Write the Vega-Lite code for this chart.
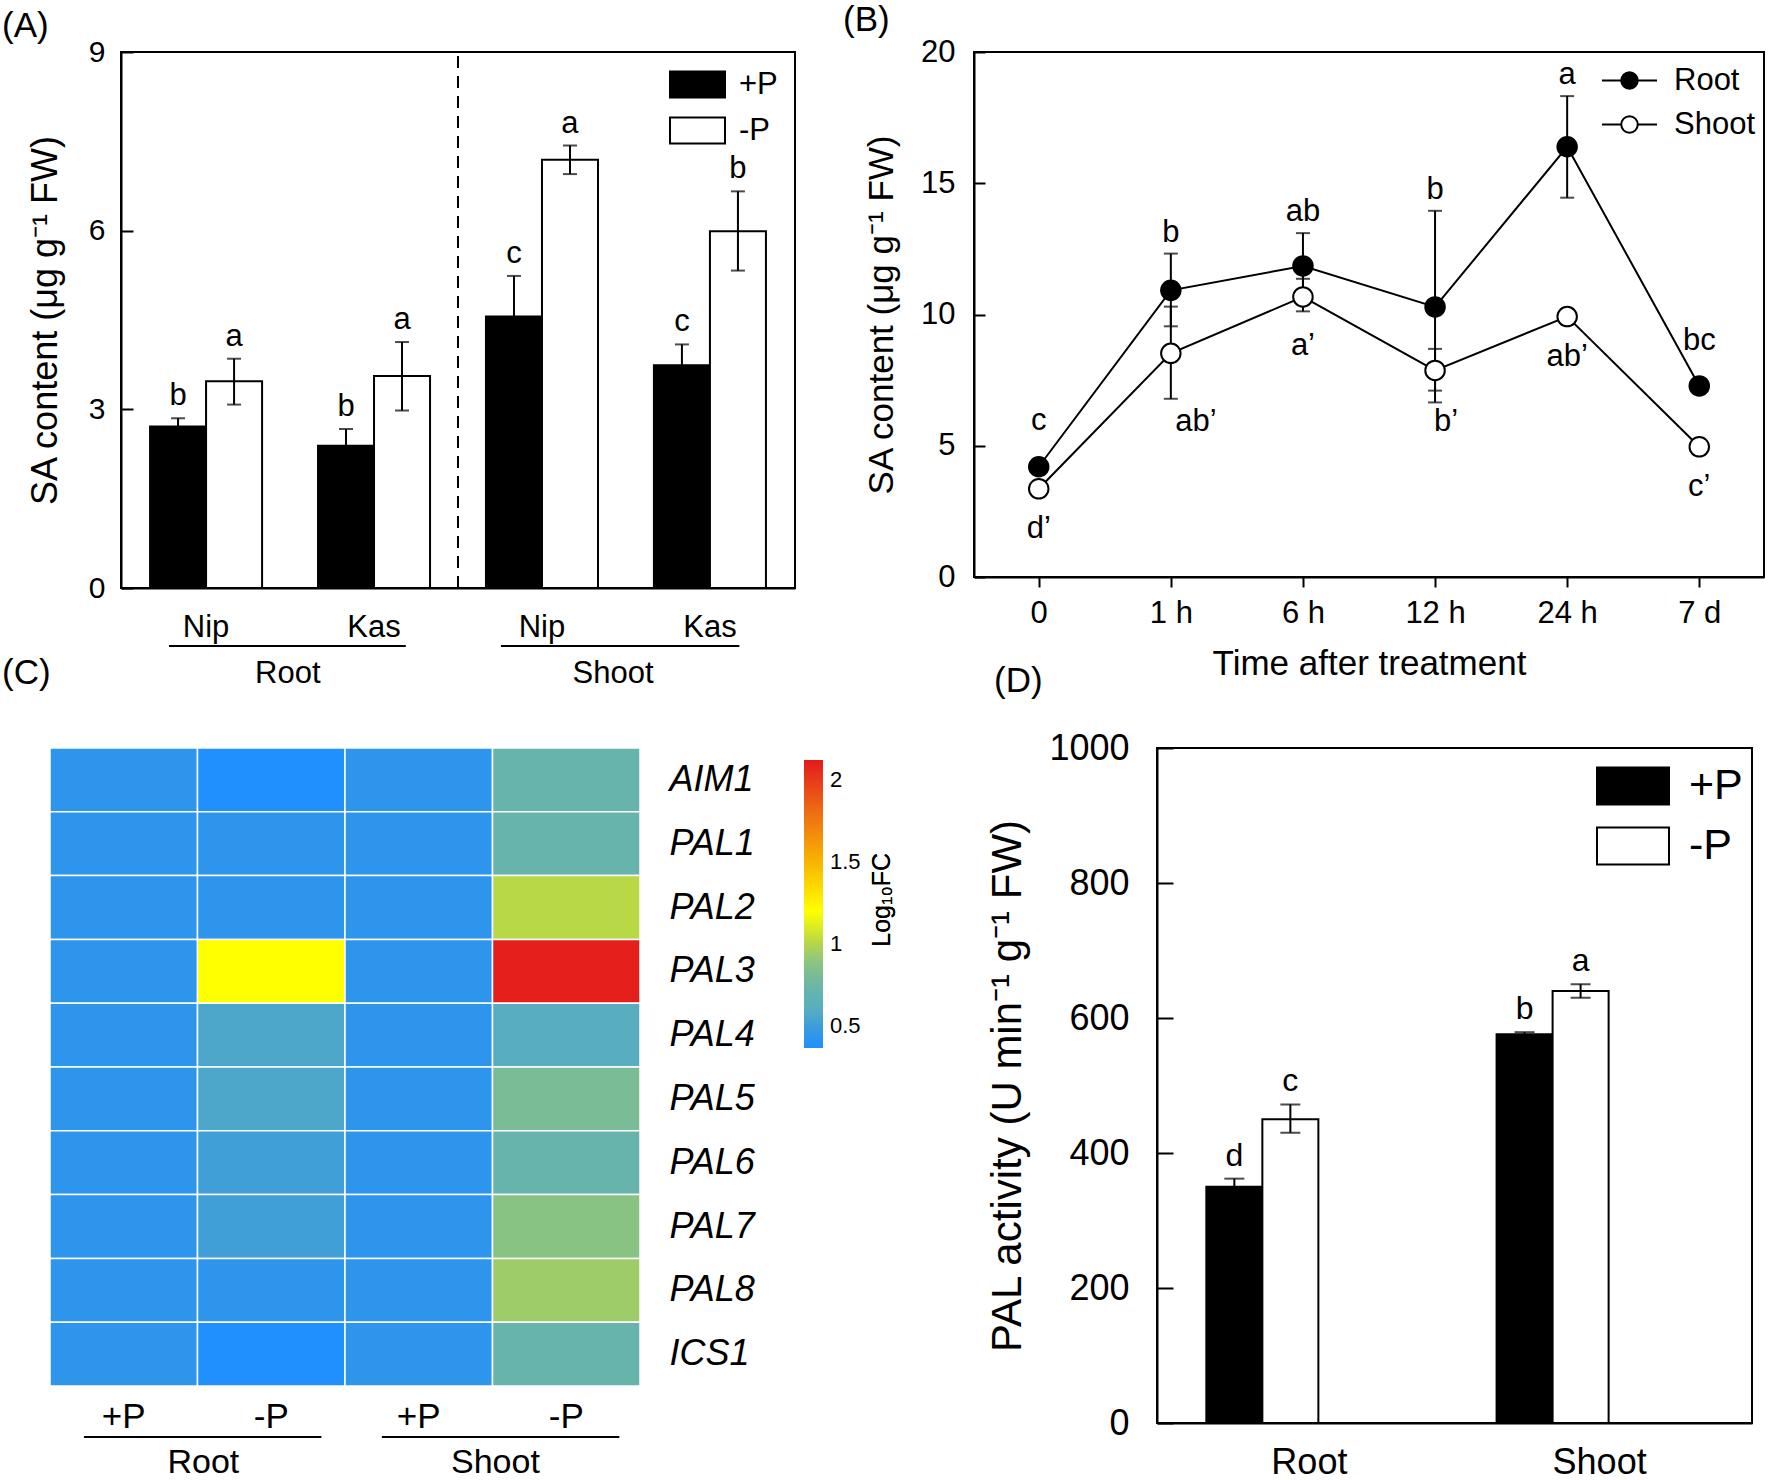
{
  "$schema": "https://vega.github.io/schema/vega-lite/v6.json",
  "background": "white",
  "padding": {"left": 1, "top": 2, "right": 0, "bottom": 0},
  "config": {
    "font": "Liberation Sans",
    "view": {"stroke": "black", "strokeWidth": 2},
    "axis": {"grid": false, "domainColor": "black", "domainWidth": 2, "tickColor": "black", "tickWidth": 2, "labelColor": "black", "titleColor": "black", "titleFontWeight": "normal", "labelFont": "Liberation Sans", "titleFont": "Liberation Sans"},
    "legend": {"labelFont": "Liberation Sans", "labelColor": "black", "padding": 0},
    "title": {"font": "Liberation Sans", "fontWeight": "normal", "fontSize": 35, "anchor": "start", "frame": "group", "color": "black"},
    "text": {"font": "Liberation Sans", "color": "black"}
  },
  "datasets": {
    "a": [
      {"grp": "Root Nip", "P": "+P", "v": 2.71, "lo": 2.57, "hi": 2.85, "sig": "b"},
      {"grp": "Root Nip", "P": "-P", "v": 3.47, "lo": 3.08, "hi": 3.85, "sig": "a"},
      {"grp": "Root Kas", "P": "+P", "v": 2.39, "lo": 2.11, "hi": 2.67, "sig": "b"},
      {"grp": "Root Kas", "P": "-P", "v": 3.56, "lo": 2.98, "hi": 4.13, "sig": "a"},
      {"grp": "Shoot Nip", "P": "+P", "v": 4.56, "lo": 3.88, "hi": 5.24, "sig": "c"},
      {"grp": "Shoot Nip", "P": "-P", "v": 7.19, "lo": 6.95, "hi": 7.43, "sig": "a"},
      {"grp": "Shoot Kas", "P": "+P", "v": 3.74, "lo": 3.39, "hi": 4.09, "sig": "c"},
      {"grp": "Shoot Kas", "P": "-P", "v": 5.99, "lo": 5.33, "hi": 6.66, "sig": "b"}
    ],
    "aAnn": [
      {"t": "Root", "x1": 0.285, "x2": 1.69, "xm": 0.99},
      {"t": "Shoot", "x1": 2.255, "x2": 3.67, "xm": 2.92}
    ],
    "b": [
      {"tissue": "Root", "time": "0", "v": 4.2, "lo": 3.95, "hi": 4.45, "sig": "c"},
      {"tissue": "Root", "time": "1 h", "v": 10.92, "lo": 9.55, "hi": 12.32, "sig": "b"},
      {"tissue": "Root", "time": "6 h", "v": 11.85, "lo": 10.6, "hi": 13.1, "sig": "ab"},
      {"tissue": "Root", "time": "12 h", "v": 10.29, "lo": 6.65, "hi": 13.95, "sig": "b"},
      {"tissue": "Root", "time": "24 h", "v": 16.39, "lo": 14.45, "hi": 18.32, "sig": "a"},
      {"tissue": "Root", "time": "7 d", "v": 7.28, "lo": 7.05, "hi": 7.5, "sig": "bc"},
      {"tissue": "Shoot", "time": "0", "v": 3.36, "lo": 3.15, "hi": 3.57, "sig": "d’"},
      {"tissue": "Shoot", "time": "1 h", "v": 8.52, "lo": 6.79, "hi": 10.3, "sig": "ab’"},
      {"tissue": "Shoot", "time": "6 h", "v": 10.67, "lo": 10.12, "hi": 11.36, "sig": "a’"},
      {"tissue": "Shoot", "time": "12 h", "v": 7.87, "lo": 7.1, "hi": 8.69, "sig": "b’"},
      {"tissue": "Shoot", "time": "24 h", "v": 9.92, "lo": 9.72, "hi": 10.12, "sig": "ab’"},
      {"tissue": "Shoot", "time": "7 d", "v": 4.96, "lo": 4.76, "hi": 5.16, "sig": "c’"}
    ],
    "c": [
      {"cond": "Root +P", "gene": "AIM1", "lfc": 0.43}, {"cond": "Root -P", "gene": "AIM1", "lfc": 0.37}, {"cond": "Shoot +P", "gene": "AIM1", "lfc": 0.43}, {"cond": "Shoot -P", "gene": "AIM1", "lfc": 0.72},
      {"cond": "Root +P", "gene": "PAL1", "lfc": 0.43}, {"cond": "Root -P", "gene": "PAL1", "lfc": 0.43}, {"cond": "Shoot +P", "gene": "PAL1", "lfc": 0.43}, {"cond": "Shoot -P", "gene": "PAL1", "lfc": 0.72},
      {"cond": "Root +P", "gene": "PAL2", "lfc": 0.43}, {"cond": "Root -P", "gene": "PAL2", "lfc": 0.43}, {"cond": "Shoot +P", "gene": "PAL2", "lfc": 0.43}, {"cond": "Shoot -P", "gene": "PAL2", "lfc": 1.01},
      {"cond": "Root +P", "gene": "PAL3", "lfc": 0.43}, {"cond": "Root -P", "gene": "PAL3", "lfc": 1.2}, {"cond": "Shoot +P", "gene": "PAL3", "lfc": 0.43}, {"cond": "Shoot -P", "gene": "PAL3", "lfc": 2.1},
      {"cond": "Root +P", "gene": "PAL4", "lfc": 0.43}, {"cond": "Root -P", "gene": "PAL4", "lfc": 0.56}, {"cond": "Shoot +P", "gene": "PAL4", "lfc": 0.43}, {"cond": "Shoot -P", "gene": "PAL4", "lfc": 0.6},
      {"cond": "Root +P", "gene": "PAL5", "lfc": 0.43}, {"cond": "Root -P", "gene": "PAL5", "lfc": 0.56}, {"cond": "Shoot +P", "gene": "PAL5", "lfc": 0.43}, {"cond": "Shoot -P", "gene": "PAL5", "lfc": 0.81},
      {"cond": "Root +P", "gene": "PAL6", "lfc": 0.43}, {"cond": "Root -P", "gene": "PAL6", "lfc": 0.51}, {"cond": "Shoot +P", "gene": "PAL6", "lfc": 0.43}, {"cond": "Shoot -P", "gene": "PAL6", "lfc": 0.72},
      {"cond": "Root +P", "gene": "PAL7", "lfc": 0.43}, {"cond": "Root -P", "gene": "PAL7", "lfc": 0.51}, {"cond": "Shoot +P", "gene": "PAL7", "lfc": 0.43}, {"cond": "Shoot -P", "gene": "PAL7", "lfc": 0.87},
      {"cond": "Root +P", "gene": "PAL8", "lfc": 0.43}, {"cond": "Root -P", "gene": "PAL8", "lfc": 0.43}, {"cond": "Shoot +P", "gene": "PAL8", "lfc": 0.43}, {"cond": "Shoot -P", "gene": "PAL8", "lfc": 0.94},
      {"cond": "Root +P", "gene": "ICS1", "lfc": 0.43}, {"cond": "Root -P", "gene": "ICS1", "lfc": 0.37}, {"cond": "Shoot +P", "gene": "ICS1", "lfc": 0.43}, {"cond": "Shoot -P", "gene": "ICS1", "lfc": 0.72}
    ],
    "cAnn": [
      {"t": "Root", "x1": 0.23, "x2": 1.84, "xm": 1.04},
      {"t": "Shoot", "x1": 2.25, "x2": 3.86, "xm": 3.02}
    ],
    "d": [
      {"tissue": "Root", "P": "+P", "v": 350, "lo": 338, "hi": 362, "sig": "d"},
      {"tissue": "Root", "P": "-P", "v": 450, "lo": 430, "hi": 472, "sig": "c"},
      {"tissue": "Shoot", "P": "+P", "v": 576, "lo": 573, "hi": 579, "sig": "b"},
      {"tissue": "Shoot", "P": "-P", "v": 640, "lo": 630, "hi": 650, "sig": "a"}
    ]
  },
  "align": "none",
  "spacing": -34,
  "resolve": {"scale": {"fill": "independent", "x": "independent", "y": "independent"}, "legend": {"fill": "independent"}},
  "vconcat": [
    {
      "align": "none",
      "spacing": 46,
      "resolve": {"scale": {"fill": "independent", "x": "independent", "y": "independent"}, "legend": {"fill": "independent"}},
      "hconcat": [
        {
          "width": 674,
          "height": 536,
          "title": {"text": "(A)", "dx": -119, "offset": -7},
          "layer": [
            {
              "data": {"name": "a"},
              "encoding": {
                "x": {"field": "grp", "type": "nominal", "sort": ["Root Nip", "Root Kas", "Shoot Nip", "Shoot Kas"], "scale": {"paddingInner": 0.333, "paddingOuter": 0.173}, "axis": {"title": null, "labelExpr": "split(datum.value, ' ')[1]", "labelAngle": 0, "ticks": false, "labelFontSize": 31, "labelPadding": 24}},
                "xOffset": {"field": "P", "type": "nominal", "sort": ["+P", "-P"], "scale": {"paddingInner": 0, "paddingOuter": 0}}
              },
              "layer": [
                {
                  "mark": {"type": "bar", "stroke": "black", "strokeWidth": 2},
                  "encoding": {
                    "y": {"field": "v", "type": "quantitative", "scale": {"domain": [0, 9], "nice": false}, "axis": {"title": "SA content (μg g⁻¹ FW)", "values": [0, 3, 6, 9], "format": "d", "tickSize": -12, "labelPadding": 28, "labelFontSize": 30, "titleFontSize": 36, "titlePadding": 24}},
                    "fill": {"field": "P", "type": "nominal", "scale": {"domain": ["+P", "-P"], "range": ["black", "white"]}, "legend": {"orient": "none", "legendX": 548, "legendY": 4, "title": null, "symbolType": "M-1,-0.473L1,-0.473L1,0.473L-1,0.473Z", "symbolSize": 3025, "symbolStrokeColor": "black", "symbolStrokeWidth": 2, "rowPadding": -15, "labelFontSize": 31, "labelOffset": 13}}
                  }
                },
                {"mark": {"type": "rule", "color": "black", "strokeWidth": 2}, "encoding": {"y": {"field": "lo", "type": "quantitative"}, "y2": {"field": "hi"}}},
                {"mark": {"type": "tick", "color": "black", "thickness": 2, "size": 14}, "encoding": {"y": {"field": "hi", "type": "quantitative"}}},
                {"mark": {"type": "tick", "color": "black", "thickness": 2, "size": 14}, "encoding": {"y": {"field": "lo", "type": "quantitative"}}},
                {"mark": {"type": "text", "baseline": "alphabetic", "dy": -13, "fontSize": 31}, "encoding": {"y": {"field": "hi", "type": "quantitative"}, "text": {"field": "sig"}}}
              ]
            },
            {
              "data": {"name": "aAnn"},
              "layer": [
                {"mark": {"type": "rule", "color": "black", "strokeWidth": 2}, "encoding": {"x": {"field": "x1", "type": "quantitative", "scale": {"domain": [0, 4], "nice": false, "zero": false}, "axis": null}, "x2": {"field": "x2"}, "y": {"datum": -0.974, "type": "quantitative", "scale": {"domain": [0, 9], "nice": false}, "axis": null}}},
                {"mark": {"type": "text", "fontSize": 31, "baseline": "middle"}, "encoding": {"x": {"field": "xm", "type": "quantitative", "axis": null}, "y": {"datum": -1.444, "type": "quantitative", "axis": null}, "text": {"field": "t"}}},
                {"mark": {"type": "rule", "color": "black", "strokeWidth": 2, "strokeDash": [12, 8]}, "encoding": {"x": {"datum": 2, "type": "quantitative", "axis": null}, "y": {"datum": 0, "type": "quantitative", "axis": null}, "y2": {"datum": 9}}}
              ]
            }
          ],
          "resolve": {"scale": {"x": "independent", "y": "independent"}}
        },
        {
          "width": 790,
          "height": 525,
          "title": {"text": "(B)", "dx": -131, "offset": -2},
          "data": {"name": "b"},
          "encoding": {
            "x": {"field": "time", "type": "ordinal", "sort": ["0", "1 h", "6 h", "12 h", "24 h", "7 d"], "scale": {"type": "point", "padding": 0.49}, "axis": {"title": "Time after treatment", "labelAngle": 0, "tickSize": 10, "labelPadding": 11, "labelFontSize": 31, "titleFontSize": 35, "titlePadding": 18}}
          },
          "layer": [
            {"mark": {"type": "rule", "color": "black", "strokeWidth": 2}, "encoding": {"y": {"field": "lo", "type": "quantitative", "scale": {"domain": [0, 20], "nice": false}, "axis": {"title": "SA content (μg g⁻¹ FW)", "values": [0, 5, 10, 15, 20], "format": "d", "tickSize": -11, "labelPadding": 30, "labelFontSize": 31, "titleFontSize": 35, "titlePadding": 21}}, "y2": {"field": "hi"}, "detail": {"field": "tissue"}}},
            {"mark": {"type": "tick", "color": "black", "thickness": 2, "size": 14}, "encoding": {"y": {"field": "hi", "type": "quantitative"}}},
            {"mark": {"type": "tick", "color": "black", "thickness": 2, "size": 14}, "encoding": {"y": {"field": "lo", "type": "quantitative"}}},
            {"mark": {"type": "line", "color": "black", "strokeWidth": 2}, "encoding": {"y": {"field": "v", "type": "quantitative"}, "detail": {"field": "tissue"}}},
            {
              "mark": {"type": "point", "filled": true, "stroke": "black", "strokeWidth": 2, "size": 380, "opacity": 1},
              "encoding": {
                "y": {"field": "v", "type": "quantitative"},
                "fill": {"field": "tissue", "type": "nominal", "scale": {"domain": ["Root", "Shoot"], "range": ["black", "white"]}, "legend": {"orient": "none", "legendX": 627, "legendY": 0, "title": null, "symbolType": "M-1,0L-0.3,0M0.3,0L1,0M-0.3,0A0.3,0.3,0,1,1,0.3,0A0.3,0.3,0,1,1,-0.3,0Z", "symbolSize": 3025, "symbolStrokeColor": "black", "symbolStrokeWidth": 2, "rowPadding": -16, "labelFontSize": 31, "labelOffset": 16}}
              }
            },
            {"transform": [{"filter": "datum.tissue == 'Root' && datum.time != '0' && datum.time != '7 d'"}], "mark": {"type": "text", "baseline": "alphabetic", "dy": -12, "fontSize": 31}, "encoding": {"y": {"field": "hi", "type": "quantitative"}, "text": {"field": "sig"}}},
            {"transform": [{"filter": "datum.tissue == 'Root' && (datum.time == '0' || datum.time == '7 d')"}], "mark": {"type": "text", "baseline": "alphabetic", "dy": -30, "fontSize": 31}, "encoding": {"y": {"field": "hi", "type": "quantitative"}, "text": {"field": "sig"}}},
            {"transform": [{"filter": "datum.tissue == 'Shoot' && datum.time != '1 h' && datum.time != '12 h'"}], "mark": {"type": "text", "baseline": "top", "dy": 20, "fontSize": 31}, "encoding": {"y": {"field": "lo", "type": "quantitative"}, "text": {"field": "sig"}}},
            {"transform": [{"filter": "datum.tissue == 'Shoot' && datum.time == '12 h'"}], "mark": {"type": "text", "baseline": "top", "dy": 16, "dx": 11, "fontSize": 31}, "encoding": {"y": {"field": "lo", "type": "quantitative"}, "text": {"field": "sig"}}},
            {"transform": [{"filter": "datum.tissue == 'Shoot' && datum.time == '1 h'"}], "mark": {"type": "text", "baseline": "top", "dy": 8, "dx": 25, "fontSize": 31}, "encoding": {"y": {"field": "lo", "type": "quantitative"}, "text": {"field": "sig"}}}
          ]
        }
      ]
    },
    {
      "align": "none",
      "spacing": 90,
      "resolve": {"scale": {"fill": "independent", "x": "independent", "y": "independent"}, "legend": {"fill": "independent"}},
      "hconcat": [
        {
          "width": 519,
          "height": 638,
          "title": {"text": "(C)", "dx": -119, "offset": 56},
          "view": {"stroke": null},
          "layer": [
            {
              "data": {"name": "c"},
              "mark": {"type": "rect", "stroke": "white", "strokeWidth": 1.5},
              "encoding": {
                "x": {"field": "cond", "type": "nominal", "sort": ["Root +P", "Root -P", "Shoot +P", "Shoot -P"], "scale": {"paddingInner": 0, "paddingOuter": 0, "range": [-71, 519]}, "axis": {"title": null, "labelExpr": "split(datum.value, ' ')[1]", "labelAngle": 0, "ticks": false, "domain": false, "labelFontSize": 35, "labelPadding": 13}},
                "y": {"field": "gene", "type": "nominal", "sort": ["AIM1", "PAL1", "PAL2", "PAL3", "PAL4", "PAL5", "PAL6", "PAL7", "PAL8", "ICS1"], "scale": {"paddingInner": 0, "paddingOuter": 0}, "axis": {"orient": "right", "title": null, "ticks": false, "domain": false, "labelFontSize": 36, "labelFontStyle": "italic", "labelPadding": 29}},
                "fill": {"field": "lfc", "type": "quantitative", "scale": {"domain": [0.366, 0.5, 0.6, 0.75, 0.9, 1.0, 1.2, 1.5, 1.8, 2.12], "range": ["#1e90ff", "#3d9dd8", "#58aec0", "#6ab5a6", "#90c67c", "#b4d64a", "#ffff00", "#f8b400", "#ee6e14", "#e31a1c"], "interpolate": "rgb"}, "legend": {"orient": "none", "legendX": 683, "legendY": 12, "title": null, "direction": "vertical", "gradientLength": 288, "gradientThickness": 19, "values": [0.5, 1, 1.5, 2], "format": ".1~f", "labelFontSize": 22, "labelOffset": 7, "gradientStrokeWidth": 0, "labelOverlap": false}}
              }
            },
            {
              "data": {"name": "cAnn"},
              "layer": [
                {"mark": {"type": "rule", "color": "black", "strokeWidth": 2}, "encoding": {"x": {"field": "x1", "type": "quantitative", "scale": {"domain": [0, 4], "nice": false, "zero": false, "range": [-71, 519]}, "axis": null}, "x2": {"field": "x2"}, "y": {"datum": -0.8, "type": "quantitative", "scale": {"domain": [0, 10], "nice": false}, "axis": null}}},
                {"mark": {"type": "text", "fontSize": 34, "baseline": "middle"}, "encoding": {"x": {"field": "xm", "type": "quantitative", "axis": null}, "y": {"datum": -1.2, "type": "quantitative", "axis": null}, "text": {"field": "t"}}},
                {"mark": {"type": "text", "fontSize": 25, "baseline": "middle", "align": "center", "angle": 270, "text": "Log₁₀FC"}, "encoding": {"x": {"datum": 5.64, "type": "quantitative", "axis": null}, "y": {"datum": 7.62, "type": "quantitative", "axis": null}}}
              ]
            }
          ],
          "resolve": {"scale": {"x": "independent", "y": "independent"}}
        },
        {
          "width": 595,
          "height": 675,
          "title": {"text": "(D)", "dx": -163, "offset": 31},
          "data": {"name": "d"},
          "encoding": {
            "x": {"field": "tissue", "type": "nominal", "sort": ["Root", "Shoot"], "scale": {"paddingInner": 0.29, "paddingOuter": 0.17}, "axis": {"title": null, "labelAngle": 0, "ticks": false, "labelFontSize": 36, "labelPadding": 22}},
            "xOffset": {"field": "P", "type": "nominal", "sort": ["+P", "-P"], "scale": {"paddingInner": 0, "paddingOuter": 0}}
          },
          "layer": [
            {
              "mark": {"type": "bar", "stroke": "black", "strokeWidth": 2},
              "encoding": {
                "y": {"field": "v", "type": "quantitative", "scale": {"domain": [0, 1000], "nice": false}, "axis": {"title": "PAL activity (U min⁻¹ g⁻¹ FW)", "values": [0, 200, 400, 600, 800, 1000], "format": "d", "tickSize": -16, "labelPadding": 44, "labelFontSize": 36, "titleFontSize": 42, "titlePadding": 19}},
                "fill": {"field": "P", "type": "nominal", "scale": {"domain": ["+P", "-P"], "range": ["black", "white"]}, "legend": {"orient": "none", "legendX": 439, "legendY": 1, "title": null, "symbolType": "M-1,-0.514L1,-0.514L1,0.514L-1,0.514Z", "symbolSize": 5184, "symbolStrokeColor": "black", "symbolStrokeWidth": 2, "rowPadding": -15, "labelFontSize": 43, "labelOffset": 19}}
              }
            },
            {"mark": {"type": "rule", "color": "black", "strokeWidth": 2}, "encoding": {"y": {"field": "lo", "type": "quantitative"}, "y2": {"field": "hi"}}},
            {"mark": {"type": "tick", "color": "black", "thickness": 2, "size": 20}, "encoding": {"y": {"field": "hi", "type": "quantitative"}}},
            {"mark": {"type": "tick", "color": "black", "thickness": 2, "size": 20}, "encoding": {"y": {"field": "lo", "type": "quantitative"}}},
            {"mark": {"type": "text", "baseline": "alphabetic", "dy": -13, "fontSize": 32}, "encoding": {"y": {"field": "hi", "type": "quantitative"}, "text": {"field": "sig"}}}
          ]
        }
      ]
    }
  ]
}
